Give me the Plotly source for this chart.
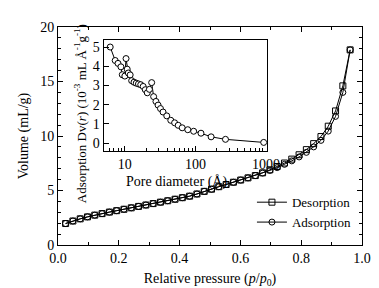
import plotly.graph_objects as go

# Main isotherm data
p_rel = [0.025, 0.049, 0.073, 0.097, 0.121, 0.145, 0.169, 0.193, 0.217, 0.241,
         0.265, 0.289, 0.313, 0.337, 0.361, 0.385, 0.409, 0.433, 0.457, 0.481,
         0.505, 0.529, 0.553, 0.577, 0.601, 0.625, 0.649, 0.673, 0.697, 0.721,
         0.745, 0.769, 0.793, 0.817, 0.841, 0.865, 0.889, 0.913, 0.937, 0.961]
v_ads = [1.97, 2.20, 2.40, 2.58, 2.74, 2.88, 3.02, 3.15, 3.28, 3.41,
         3.54, 3.67, 3.80, 3.93, 4.06, 4.20, 4.34, 4.48, 4.68, 4.92,
         5.12, 5.35, 5.55, 5.76, 5.96, 6.16, 6.37, 6.60, 6.84, 7.10,
         7.40, 7.72, 8.08, 8.50, 9.00, 9.60, 10.45, 11.80, 14.00, 17.90]
v_des = [1.97, 2.20, 2.40, 2.58, 2.74, 2.88, 3.02, 3.15, 3.28, 3.41,
         3.54, 3.67, 3.80, 3.93, 4.06, 4.20, 4.34, 4.48, 4.68, 4.92,
         5.12, 5.35, 5.55, 5.76, 5.96, 6.16, 6.37, 6.62, 6.90, 7.20,
         7.52, 7.88, 8.28, 8.75, 9.30, 9.95, 10.90, 12.30, 14.60, 17.90]

# Inset pore size distribution
pore_d = [6.2, 7.3, 8.0, 8.8, 9.2, 10.0, 10.4, 10.8, 11.2, 11.9,
          12.5, 13.5, 14.5, 15.6, 16.8, 18.2, 19.5, 20.8, 22.3, 24.0,
          25.6, 27.6, 29.6, 32.0, 34.8, 39.3, 44.8, 50.8, 57.1, 65.0,
          78.0, 94.5, 120.0, 167.0, 267.0, 930.0]
dv = [5.0, 4.3, 4.15, 3.97, 3.56, 3.49, 4.4, 3.85, 3.65, 3.55,
      3.25, 3.17, 3.12, 3.08, 3.04, 2.95, 2.78, 2.62, 2.8, 3.15,
      2.42, 2.17, 1.98, 1.8, 1.62, 1.42, 1.19, 1.06, 0.93, 0.8,
      0.7, 0.62, 0.52, 0.33, 0.2, 0.04]

FONT = "Liberation Serif"
fig = go.Figure()

fig.add_trace(go.Scatter(
    x=p_rel, y=v_des, mode="lines+markers", name="Desorption",
    line=dict(color="black", width=1),
    marker=dict(symbol="square-open", size=6, color="black", line=dict(width=1)),
))
fig.add_trace(go.Scatter(
    x=p_rel, y=v_ads, mode="lines+markers", name="Adsorption",
    line=dict(color="black", width=1),
    marker=dict(symbol="circle-open", size=6, color="black", line=dict(width=1)),
))
fig.add_trace(go.Scatter(
    x=pore_d, y=dv, mode="lines+markers", showlegend=False,
    xaxis="x2", yaxis="y2",
    line=dict(color="black", width=1),
    marker=dict(symbol="circle", size=6, color="white", line=dict(width=1, color="black")),
))

axis_common = dict(showgrid=False, zeroline=False, linecolor="black", linewidth=1,
                   ticks="inside", tickcolor="black", ticklen=5,
                   tickfont=dict(family=FONT, size=14, color="black"))

fig.update_layout(
    width=379, height=288,
    margin=dict(l=50, r=22, t=14, b=44),
    paper_bgcolor="white", plot_bgcolor="white",
    font=dict(family=FONT, size=14, color="black"),
    xaxis=dict(**axis_common, range=[0, 1.0], dtick=0.2, tickformat=".1f", mirror="ticks",
               minor=dict(ticks="inside", ticklen=3, dtick=0.1, tickcolor="black"),
               title=dict(text="Relative pressure (<i>p</i>/<i>p</i><sub>0</sub>)",
                          font=dict(family=FONT, size=14), standoff=8)),
    yaxis=dict(**axis_common, range=[0, 20], dtick=5, mirror="ticks",
               minor=dict(ticks="inside", ticklen=3, dtick=1, tickcolor="black"),
               title=dict(text="Volume (mL/g)", font=dict(family=FONT, size=14), standoff=8)),
    xaxis2=dict(showgrid=False, zeroline=False, linecolor="black", linewidth=1,
                type="log", range=[0.699, 3.013], domain=[0.150, 0.687], anchor="y2",
                mirror=True, ticks="inside", ticklen=5, tickcolor="black",
                tickvals=[10, 100, 1000], ticktext=["10", "100", "1000"],
                minor=dict(ticks="inside", ticklen=3, tickcolor="black",
                           tickvals=[6, 7, 8, 9, 20, 30, 40, 50, 60, 70, 80, 90,
                                     200, 300, 400, 500, 600, 700, 800, 900]),
                tickfont=dict(family=FONT, size=14, color="black"), ticklabelstandoff=0),
    yaxis2=dict(showgrid=False, zeroline=False, linecolor="black", linewidth=1,
                range=[-0.42, 5.35], domain=[0.430, 0.939], anchor="x2",
                mirror=True, ticks="inside", ticklen=5, tickcolor="black", dtick=1,
                tickfont=dict(family=FONT, size=14, color="black")),
    annotations=[
        dict(text="Adsorption Dv(<i>r</i>) (10<sup>-3</sup> mL Å<sup>-1</sup>g<sup>-1</sup>)",
             xref="paper", yref="paper", x=0.075, y=0.604, xanchor="center", yanchor="middle",
             textangle=-90, showarrow=False, font=dict(family=FONT, size=13, color="black")),
        dict(text="Pore diameter (Å)",
             xref="paper", yref="paper", x=0.391, y=0.290, xanchor="center", yanchor="middle",
             showarrow=False, font=dict(family=FONT, size=14, color="black")),
    ],
    legend=dict(x=0.638, y=0.265, xanchor="left", yanchor="top",
                bgcolor="rgba(0,0,0,0)", font=dict(family=FONT, size=13),
                itemwidth=30, tracegroupgap=0),
)

fig.write_html("out.html")
